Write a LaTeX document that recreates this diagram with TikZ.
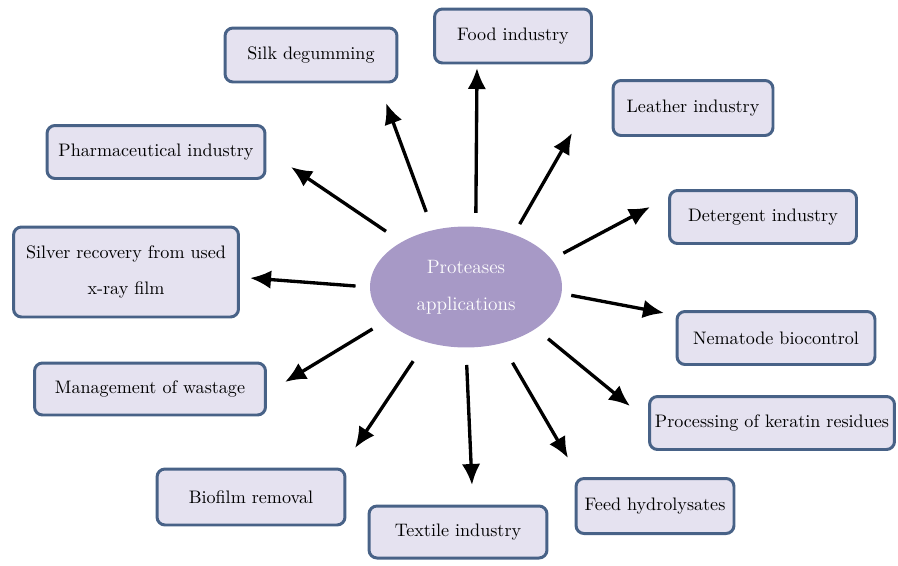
\documentclass[tikz,border=0pt]{standalone}
\usepackage{fontspec}
\usetikzlibrary{shapes.geometric,arrows.meta}
\definecolor{boxline}{RGB}{72,98,135}
\definecolor{boxfill}{RGB}{229,226,240}
\definecolor{protpurple}{RGB}{167,153,198}

\begin{document}
\begin{tikzpicture}[x=0.02cm,y=-0.02cm,line width=1.7pt,
  appbox/.style={draw=boxline,fill=boxfill,rounded corners=0.16cm,inner sep=0pt,
    align=center,font=\fontsize{10.3}{20}\selectfont},
  arr/.style={line width=1.9pt,-{Latex[length=0.42cm,width=0.37cm]}}]
\useasboundingbox (0,0) rectangle (898,565);

\node[ellipse,fill=protpurple,minimum width=3.84cm,minimum height=2.42cm,inner sep=0pt,
  align=center,text=white,font=\fontsize{11}{21}\selectfont] (prot) at (466,287) {Proteases\\applications};

\node[appbox,minimum width=3.44cm,minimum height=1.08cm] (silk) at (311,55) {Silk degumming};
\node[appbox,minimum width=3.14cm,minimum height=1.08cm] (food) at (513,36) {Food industry};
\node[appbox,minimum width=3.2cm,minimum height=1.1cm] (leather) at (693,108) {Leather industry};
\node[appbox,minimum width=3.74cm,minimum height=1.06cm] (deterg) at (763,217) {Detergent industry};
\node[appbox,minimum width=3.96cm,minimum height=1.06cm] (nema) at (776,338) {Nematode biocontrol};
\node[appbox,minimum width=4.9cm,minimum height=1.06cm] (kerat) at (772,423) {Processing of keratin residues};
\node[appbox,minimum width=3.16cm,minimum height=1.1cm] (feed) at (655,506) {Feed hydrolysates};
\node[appbox,minimum width=3.56cm,minimum height=1.04cm] (textile) at (458,532) {Textile industry};
\node[appbox,minimum width=3.76cm,minimum height=1.12cm] (biofilm) at (251,497) {Biofilm removal};
\node[appbox,minimum width=4.62cm,minimum height=1.04cm] (waste) at (150,389) {Management of wastage};
\node[appbox,minimum width=4.5cm,minimum height=1.8cm] (silver) at (126,272) {Silver recovery from used\\x-ray film};
\node[appbox,minimum width=4.36cm,minimum height=1.06cm] (pharma) at (156,152) {Pharmaceutical industry};

% arrow tips
\coordinate (pharma-tip) at (291,167);
\coordinate (silk-tip) at (386,103);
\coordinate (food-tip) at (477,68);
\coordinate (leather-tip) at (572,133);
\coordinate (deterg-tip) at (650,207);
\coordinate (nema-tip) at (664,313);
\coordinate (kerat-tip) at (630,406);
\coordinate (feed-tip) at (568,458);
\coordinate (textile-tip) at (472,485);
\coordinate (biofilm-tip) at (355,448);
\coordinate (waste-tip) at (285,382);
\coordinate (silver-tip) at (250,278);

\draw[arr,shorten <=0.35cm] (prot.145) -- (pharma-tip);
\draw[arr,shorten <=0.36cm] (prot.120) -- (silk-tip);
\draw[arr,shorten <=0.25cm] (prot.81) -- (food-tip);
\draw[arr,shorten <=0.21cm] (prot.48) -- (leather-tip);
\draw[arr,shorten <=0.24cm] (prot.18) -- (deterg-tip);
\draw[arr,shorten <=0.17cm] (prot.356) -- (nema-tip);
\draw[arr,shorten <=0.29cm] (prot.329) -- (kerat-tip);
\draw[arr,shorten <=0.42cm] (prot.302) -- (feed-tip);
\draw[arr,shorten <=0.32cm] (prot.270) -- (textile-tip);
\draw[arr,shorten <=0.43cm] (prot.234) -- (biofilm-tip);
\draw[arr,shorten <=0.29cm] (prot.203) -- (waste-tip);
\draw[arr,shorten <=0.26cm] (prot.180) -- (silver-tip);
\end{tikzpicture}
\end{document}
